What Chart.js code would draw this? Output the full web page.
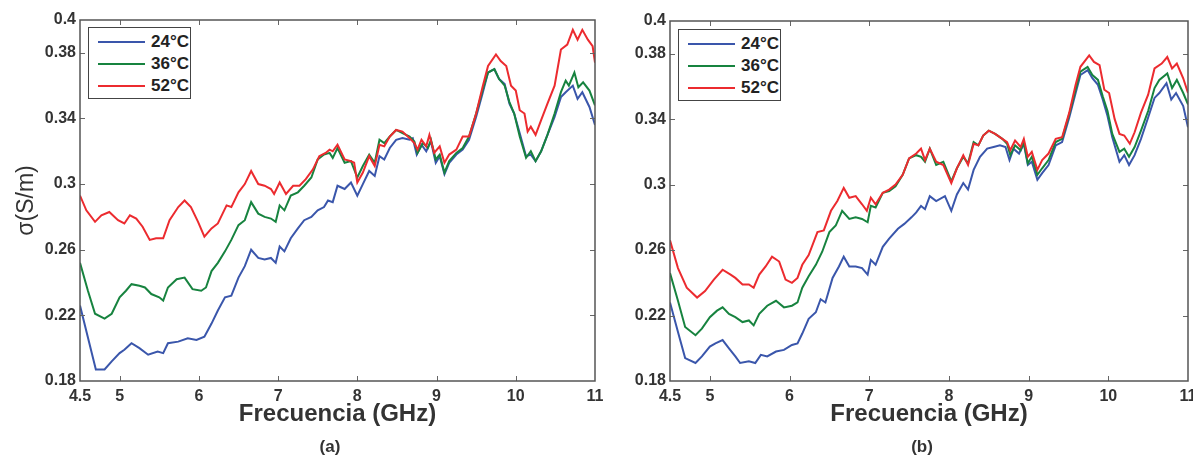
<!DOCTYPE html>
<html>
<head>
<meta charset="utf-8">
<script src="https://cdn.jsdelivr.net/npm/chart.js@4/dist/chart.umd.min.js"></script>
<style>
	body { margin:0; width:1193px; height:462px; overflow:hidden; background:#fff; font-family:'Liberation Sans', Arial, sans-serif; }
	canvas { position:absolute; top:0; }
	#grafA { left:0; }
	#grafB { left:600px; }
	.leyenda { position:absolute; width:101px; height:70px; border:1px solid #444; background:#fff; }
	.fila { position:absolute; left:0; height:20px; }
	.fila span.linea { position:absolute; left:9px; top:9px; width:47px; height:0; border-top:2px solid; }
	.fila span.txt { position:absolute; left:62px; top:0; font-weight:bold; font-size:17px; line-height:20px; color:#222; }
	.letra { position:absolute; top:437px; font-weight:bold; font-size:17px; color:#333; width:40px; text-align:center; }
</style>
</head>
<body>
<canvas id="grafA" width="610" height="462"></canvas>
<canvas id="grafB" width="593" height="462"></canvas>

<div class="leyenda" style="left:88px; top:27px;">
	<div class="fila" style="top:4px;"><span class="linea" style="border-color:#3a56ab"></span><span class="txt">24°C</span></div>
	<div class="fila" style="top:26px;"><span class="linea" style="border-color:#17833f"></span><span class="txt">36°C</span></div>
	<div class="fila" style="top:48px;"><span class="linea" style="border-color:#ec2b2f"></span><span class="txt">52°C</span></div>
</div>
<div class="leyenda" style="left:678px; top:29px;">
	<div class="fila" style="top:4px;"><span class="linea" style="border-color:#3a56ab"></span><span class="txt">24°C</span></div>
	<div class="fila" style="top:26px;"><span class="linea" style="border-color:#17833f"></span><span class="txt">36°C</span></div>
	<div class="fila" style="top:48px;"><span class="linea" style="border-color:#ec2b2f"></span><span class="txt">52°C</span></div>
</div>
<div class="letra" style="left:310px;">(a)</div>
<div class="letra" style="left:902px;">(b)</div>

<script>
// ticks de los ejes
var ticksX = [4.5, 5, 6, 7, 8, 9, 10, 11];
var ticksY = [0.18, 0.22, 0.26, 0.3, 0.34, 0.38, 0.4];

// ---- panel (a) ----
var fA24 = [4.5,4.7,4.81,4.9,5.0,5.06,5.15,5.25,5.36,5.48,5.55,5.61,5.74,5.86,5.97,6.07,6.16,6.24,6.33,6.41,6.5,6.58,6.66,6.75,6.83,6.91,6.97,7.02,7.08,7.16,7.25,7.33,7.42,7.5,7.58,7.63,7.69,7.75,7.84,7.92,8.0,8.07,8.15,8.22,8.28,8.34,8.41,8.49,8.57,8.66,8.7,8.75,8.81,8.87,8.93,8.99,9.04,9.1,9.16,9.25,9.33,9.41,9.5,9.58,9.65,9.73,9.79,9.86,9.92,9.98,10.05,10.13,10.19,10.25,10.32,10.4,10.49,10.57,10.63,10.72,10.78,10.84,10.93,11.0];
var sA24 = [0.226,0.187,0.187,0.192,0.197,0.199,0.203,0.2,0.196,0.198,0.197,0.203,0.204,0.206,0.205,0.207,0.215,0.223,0.231,0.232,0.243,0.25,0.26,0.255,0.254,0.255,0.252,0.262,0.259,0.267,0.273,0.278,0.28,0.284,0.286,0.29,0.289,0.299,0.297,0.301,0.293,0.3,0.308,0.305,0.317,0.315,0.322,0.327,0.328,0.327,0.328,0.318,0.324,0.32,0.326,0.313,0.317,0.306,0.313,0.318,0.321,0.327,0.341,0.355,0.368,0.37,0.364,0.361,0.349,0.343,0.331,0.317,0.318,0.314,0.32,0.33,0.341,0.353,0.356,0.36,0.352,0.356,0.347,0.336];

var fA36 = [4.5,4.6,4.69,4.81,4.9,5.0,5.08,5.15,5.25,5.32,5.4,5.5,5.55,5.61,5.72,5.82,5.92,6.03,6.09,6.16,6.24,6.33,6.41,6.5,6.58,6.66,6.75,6.83,6.91,6.97,7.02,7.08,7.16,7.25,7.33,7.42,7.5,7.58,7.65,7.69,7.75,7.84,7.92,8.0,8.07,8.15,8.22,8.28,8.34,8.41,8.49,8.57,8.66,8.72,8.76,8.83,8.89,8.93,8.99,9.04,9.1,9.16,9.25,9.33,9.41,9.5,9.58,9.65,9.73,9.79,9.86,9.92,9.98,10.05,10.13,10.19,10.25,10.32,10.4,10.49,10.57,10.63,10.67,10.74,10.79,10.85,10.93,11.0];
var sA36 = [0.252,0.235,0.221,0.218,0.221,0.231,0.235,0.239,0.238,0.237,0.233,0.231,0.229,0.237,0.242,0.243,0.236,0.235,0.237,0.247,0.252,0.259,0.266,0.275,0.278,0.289,0.282,0.28,0.279,0.277,0.287,0.284,0.293,0.295,0.299,0.304,0.315,0.318,0.319,0.316,0.322,0.313,0.314,0.304,0.311,0.318,0.313,0.327,0.325,0.329,0.333,0.331,0.329,0.326,0.319,0.325,0.322,0.327,0.315,0.318,0.307,0.314,0.319,0.322,0.329,0.343,0.357,0.368,0.37,0.364,0.36,0.35,0.343,0.329,0.316,0.32,0.314,0.32,0.33,0.343,0.356,0.363,0.36,0.368,0.359,0.362,0.357,0.348];

var fA52 = [4.5,4.58,4.69,4.77,4.87,4.98,5.06,5.13,5.21,5.29,5.38,5.46,5.55,5.63,5.74,5.82,5.9,5.99,6.07,6.16,6.24,6.35,6.41,6.5,6.58,6.66,6.75,6.83,6.91,6.95,7.02,7.1,7.19,7.27,7.35,7.44,7.52,7.6,7.65,7.69,7.75,7.84,7.92,7.96,8.0,8.07,8.15,8.22,8.28,8.34,8.41,8.49,8.57,8.66,8.72,8.76,8.81,8.87,8.91,8.97,9.04,9.1,9.16,9.25,9.33,9.41,9.5,9.58,9.65,9.75,9.81,9.88,9.94,10.0,10.05,10.11,10.15,10.19,10.25,10.32,10.4,10.49,10.57,10.65,10.72,10.78,10.84,10.91,10.97,11.0];
var sA52 = [0.293,0.284,0.277,0.281,0.283,0.278,0.276,0.281,0.279,0.274,0.266,0.267,0.267,0.278,0.286,0.29,0.286,0.277,0.268,0.273,0.276,0.287,0.286,0.295,0.3,0.308,0.3,0.299,0.297,0.294,0.301,0.294,0.299,0.299,0.303,0.309,0.317,0.319,0.321,0.32,0.324,0.315,0.314,0.313,0.301,0.307,0.317,0.311,0.324,0.323,0.329,0.333,0.332,0.328,0.325,0.321,0.327,0.323,0.33,0.319,0.323,0.313,0.318,0.321,0.329,0.329,0.343,0.359,0.372,0.379,0.375,0.372,0.36,0.357,0.345,0.343,0.332,0.335,0.33,0.339,0.349,0.36,0.382,0.385,0.394,0.388,0.394,0.388,0.384,0.374];

// ---- panel (b) ----
var fB24 = [4.5,4.6,4.69,4.82,4.9,5.0,5.07,5.16,5.24,5.32,5.38,5.49,5.57,5.64,5.72,5.83,5.93,6.03,6.1,6.16,6.24,6.33,6.39,6.45,6.54,6.62,6.68,6.75,6.83,6.91,6.98,7.02,7.08,7.17,7.25,7.36,7.44,7.53,7.59,7.65,7.7,7.76,7.84,7.95,8.03,8.1,8.18,8.24,8.31,8.39,8.48,8.56,8.64,8.71,8.76,8.81,8.88,8.94,8.99,9.04,9.11,9.17,9.25,9.34,9.42,9.51,9.59,9.65,9.74,9.8,9.87,9.93,9.99,10.05,10.14,10.2,10.26,10.33,10.41,10.5,10.58,10.64,10.73,10.79,10.85,10.94,11.0];
var sB24 = [0.228,0.21,0.194,0.191,0.195,0.201,0.203,0.205,0.2,0.195,0.191,0.192,0.191,0.196,0.195,0.198,0.199,0.202,0.203,0.209,0.218,0.222,0.23,0.228,0.243,0.25,0.256,0.25,0.25,0.249,0.245,0.254,0.251,0.262,0.267,0.273,0.276,0.28,0.283,0.287,0.285,0.293,0.29,0.293,0.284,0.294,0.301,0.297,0.309,0.317,0.322,0.323,0.324,0.323,0.315,0.322,0.319,0.325,0.312,0.314,0.303,0.307,0.312,0.324,0.326,0.341,0.356,0.367,0.37,0.365,0.361,0.352,0.342,0.329,0.314,0.318,0.312,0.318,0.328,0.341,0.353,0.356,0.362,0.352,0.356,0.348,0.335];

var fB36 = [4.5,4.6,4.69,4.82,4.9,5.0,5.09,5.16,5.24,5.32,5.41,5.49,5.55,5.62,5.72,5.83,5.93,6.03,6.1,6.16,6.24,6.33,6.41,6.5,6.58,6.66,6.75,6.83,6.91,6.98,7.02,7.08,7.17,7.25,7.33,7.42,7.5,7.59,7.65,7.7,7.76,7.84,7.93,8.03,8.1,8.18,8.24,8.31,8.37,8.43,8.5,8.58,8.67,8.73,8.77,8.83,8.9,8.94,8.99,9.04,9.11,9.17,9.25,9.34,9.42,9.51,9.59,9.65,9.74,9.8,9.87,9.93,9.99,10.05,10.14,10.2,10.26,10.33,10.41,10.5,10.58,10.64,10.74,10.8,10.86,10.94,11.0];
var sB36 = [0.246,0.229,0.213,0.208,0.212,0.219,0.223,0.225,0.221,0.219,0.216,0.217,0.214,0.221,0.226,0.229,0.225,0.226,0.228,0.237,0.244,0.251,0.259,0.271,0.275,0.284,0.279,0.28,0.279,0.277,0.287,0.286,0.295,0.296,0.299,0.306,0.316,0.318,0.317,0.314,0.322,0.312,0.314,0.302,0.31,0.317,0.313,0.326,0.324,0.33,0.333,0.331,0.328,0.325,0.318,0.324,0.321,0.326,0.313,0.317,0.306,0.31,0.315,0.326,0.328,0.343,0.358,0.369,0.372,0.367,0.364,0.354,0.345,0.331,0.32,0.322,0.317,0.323,0.333,0.345,0.359,0.364,0.368,0.359,0.364,0.356,0.349];

var fB52 = [4.5,4.6,4.71,4.84,4.94,5.05,5.16,5.26,5.32,5.41,5.49,5.55,5.62,5.7,5.78,5.87,5.95,6.03,6.1,6.16,6.24,6.35,6.43,6.52,6.6,6.68,6.75,6.83,6.91,6.97,7.02,7.08,7.17,7.25,7.33,7.42,7.5,7.59,7.65,7.7,7.76,7.84,7.93,8.03,8.1,8.18,8.24,8.31,8.37,8.43,8.5,8.58,8.67,8.73,8.77,8.83,8.9,8.94,8.99,9.04,9.11,9.17,9.25,9.34,9.42,9.51,9.59,9.65,9.76,9.82,9.89,9.95,10.01,10.08,10.14,10.2,10.27,10.33,10.41,10.5,10.58,10.67,10.74,10.8,10.86,10.94,11.0];
var sB52 = [0.266,0.249,0.237,0.231,0.235,0.242,0.248,0.245,0.243,0.239,0.239,0.237,0.245,0.25,0.256,0.253,0.242,0.24,0.243,0.251,0.257,0.271,0.272,0.284,0.29,0.298,0.292,0.293,0.288,0.284,0.292,0.288,0.295,0.297,0.3,0.306,0.316,0.319,0.322,0.315,0.322,0.314,0.312,0.301,0.31,0.318,0.312,0.325,0.324,0.33,0.333,0.331,0.328,0.326,0.321,0.327,0.323,0.328,0.317,0.32,0.309,0.315,0.319,0.328,0.329,0.344,0.361,0.372,0.379,0.375,0.373,0.358,0.356,0.34,0.331,0.33,0.325,0.332,0.344,0.355,0.371,0.374,0.378,0.371,0.374,0.365,0.356];

var etiquetas = ['24°C', '36°C', '52°C'];
var colores = ['#3a56ab', '#17833f', '#ec2b2f'];
var fuente = "'Liberation Sans', Arial, sans-serif";

// une frecuencia y sigma en puntos {x,y}
function pares(f, s){
	var res = [];
	for(var i=0; i<f.length; i++){
		res.push({x: f[i], y: s[i]});
	}
	return res;
}

// marco del grafico y ticks hacia adentro (estilo matlab)
var marcoPlugin = {
	id: 'marco',
	afterDatasetsDraw: function(chart){
		var ctx = chart.ctx;
		var a = chart.chartArea;
		var sx = chart.scales.x, sy = chart.scales.y;
		ctx.save();
		ctx.strokeStyle = '#666';
		ctx.lineWidth = 1;
		ctx.beginPath();
		sx.ticks.forEach(function(t){
			if(t.value <= 4.5 || t.value >= 11) return;
			var px = Math.round(sx.getPixelForValue(t.value)) + 0.5;
			ctx.moveTo(px, a.bottom); ctx.lineTo(px, a.bottom - 5);
			ctx.moveTo(px, a.top); ctx.lineTo(px, a.top + 5);
		});
		sy.ticks.forEach(function(t){
			if(t.value <= 0.18 || t.value >= 0.4) return;
			var py = Math.round(sy.getPixelForValue(t.value)) + 0.5;
			ctx.moveTo(a.left, py); ctx.lineTo(a.left + 5, py);
			ctx.moveTo(a.right, py); ctx.lineTo(a.right - 5, py);
		});
		ctx.stroke();
		ctx.strokeStyle = '#555';
		ctx.lineWidth = 1.5;
		ctx.strokeRect(a.left, a.top, a.right - a.left, a.bottom - a.top);
		ctx.restore();
	}
};

function makeChart(idCanvas, series, anchoY, conTituloY, padTop, padRight){
	var datasets = [];
	for(var i=0; i<series.length; i++){
		datasets.push({
			label: etiquetas[i],
			data: pares(series[i][0], series[i][1]),
			borderColor: colores[i],
			backgroundColor: colores[i],
			borderWidth: 2,
			pointRadius: 0,
			tension: 0,
			fill: false,
			order: 3 - i
		});
	}
	var ctx = document.getElementById(idCanvas).getContext('2d');
	return new Chart(ctx, {
		type: 'line',
		data: { datasets: datasets },
		options: {
			responsive: false,
			animation: false,
			layout: { padding: { top: padTop, right: padRight, left: 0, bottom: 0 } },
			plugins: { legend: { display: false }, tooltip: { enabled: false } },
			scales: {
				x: {
					type: 'linear', min: 4.5, max: 11,
					grid: { display: false, drawTicks: false },
					border: { display: false },
					afterBuildTicks: function(s){ s.ticks = ticksX.map(function(v){ return {value: v}; }); },
					afterFit: function(s){ s.height = 81; s.paddingLeft = 0; s.paddingRight = 0; },
					ticks: {
						autoSkip: false, maxRotation: 0, padding: 6, color: '#333',
						font: { family: fuente, size: 16, weight: 'bold' },
						callback: function(v){ return String(v); }
					},
					title: {
						display: true, text: 'Frecuencia (GHz)', color: '#333',
						font: { family: fuente, size: 24, weight: 'bold' },
						padding: { top: 0, bottom: 33 }
					}
				},
				y: {
					min: 0.18, max: 0.4,
					grid: { display: false, drawTicks: false },
					border: { display: false },
					afterBuildTicks: function(s){ s.ticks = ticksY.map(function(v){ return {value: v}; }); },
					afterFit: function(s){ s.width = anchoY; s.paddingTop = 0; s.paddingBottom = 0; },
					ticks: {
						autoSkip: false, padding: 4, color: '#333',
						font: { family: fuente, size: 16, weight: 'bold' },
						callback: function(v){ return String(v); }
					},
					title: {
						display: conTituloY, text: 'σ(S/m)', color: '#333',
						font: { family: fuente, size: 23 },
						padding: { top: 13, bottom: 0 }
					}
				}
			}
		},
		plugins: [marcoPlugin]
	});
}

makeChart('grafA', [[fA24, sA24], [fA36, sA36], [fA52, sA52]], 80, true, 20, 15);
makeChart('grafB', [[fB24, sB24], [fB36, sB36], [fB52, sB52]], 70, false, 21, 5);
</script>
</body>
</html>
